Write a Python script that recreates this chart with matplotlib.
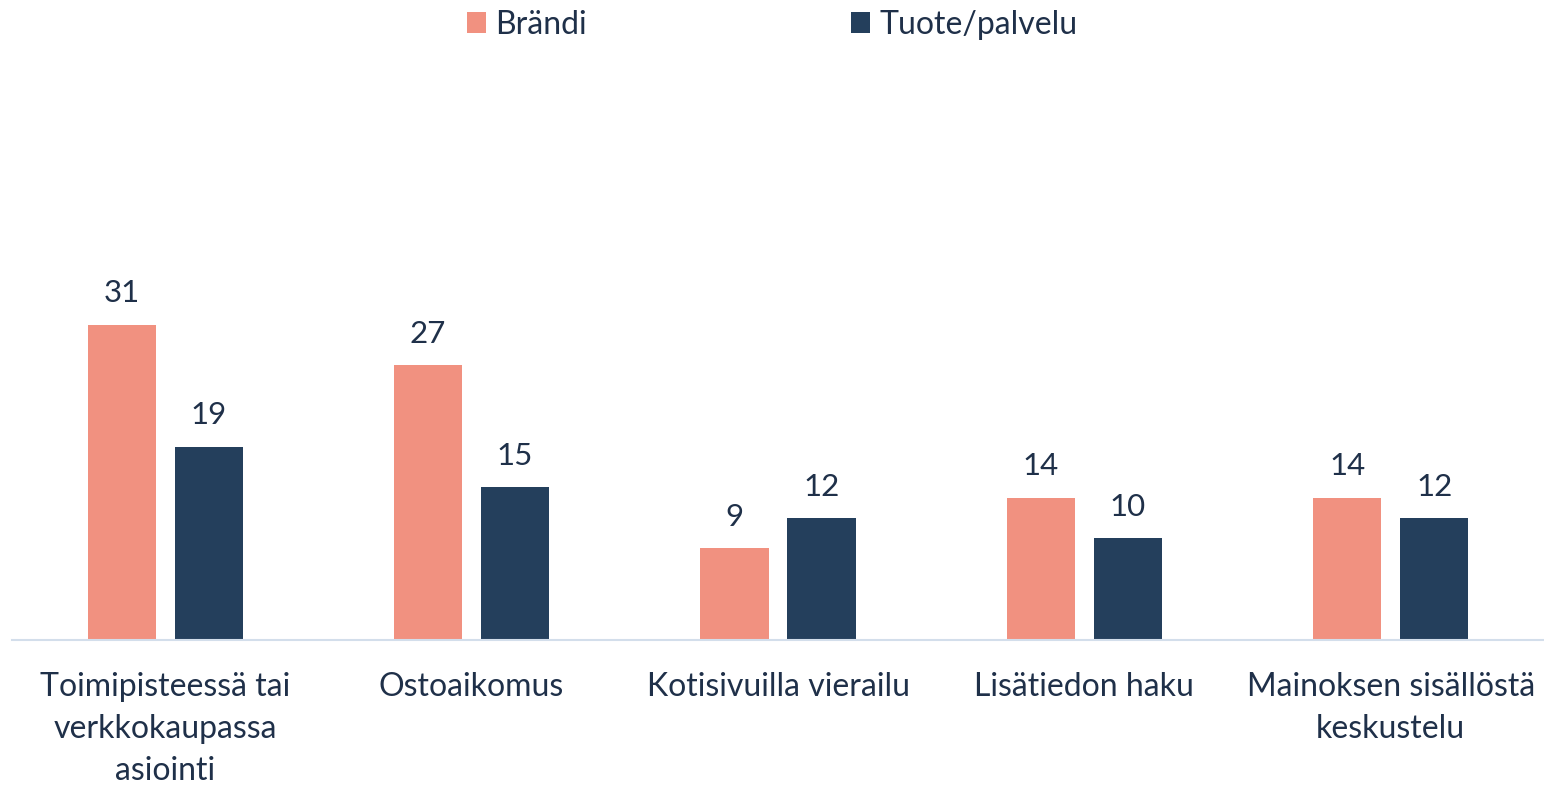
import matplotlib
matplotlib.use("Agg")
import matplotlib.pyplot as plt
import numpy as np

categories = ["Toimipisteessä tai\nverkkokaupassa\nasiointi", "Ostoaikomus",
              "Kotisivuilla vierailu", "Lisätiedon haku",
              "Mainoksen sisällöstä\nkeskustelu"]
brandi = [31, 27, 9, 14, 14]
tuote = [19, 15, 12, 10, 12]
series_names = ["Brändi", "Tuote/palvelu"]

C_BRAND = "#F19180"
C_PROD = "#243F5C"
C_TEXT = "#1F3049"
C_BASE = "#D3DEEB"

plt.rcParams["font.family"] = ["Lato", "DejaVu Sans"]

fig = plt.figure(figsize=(15.44, 7.88), dpi=100)
ax = fig.add_axes([12 / 1544, 148 / 788, 1532 / 1544, 580 / 788])

x = np.arange(len(categories))
w = 0.222
off = 0.142
b1 = ax.bar(x - off, brandi, w, color=C_BRAND, label=series_names[0])
b2 = ax.bar(x + off, tuote, w, color=C_PROD, label=series_names[1])

for bars, vals in ((b1, brandi), (b2, tuote)):
    for r, v in zip(bars, vals):
        ax.annotate(f"{v}", (r.get_x() + r.get_width() / 2, v),
                    xytext=(0, 12.5), textcoords="offset points",
                    ha="center", va="bottom", fontsize=22.5, color=C_TEXT)

ax.set_xlim(-0.5, len(categories) - 0.5)
ax.set_ylim(0, 57)
ax.set_xticks(x)
ax.set_xticklabels(categories, fontsize=23, color=C_TEXT, linespacing=1.5)
ax.tick_params(axis="x", length=0, pad=23)
ax.set_yticks([])
for s in ("top", "right", "left"):
    ax.spines[s].set_visible(False)
ax.spines["bottom"].set_color(C_BASE)
ax.spines["bottom"].set_linewidth(1.5)

leg = fig.legend(loc="upper center", bbox_to_anchor=(0.5, 1.012), ncol=2,
                 frameon=False, fontsize=23, handlelength=0.6,
                 handleheight=0.6, handletextpad=0.3, columnspacing=8.25,
                 borderaxespad=0.2)
for t in leg.get_texts():
    t.set_color(C_TEXT)

fig.savefig("out.png", dpi=100)
